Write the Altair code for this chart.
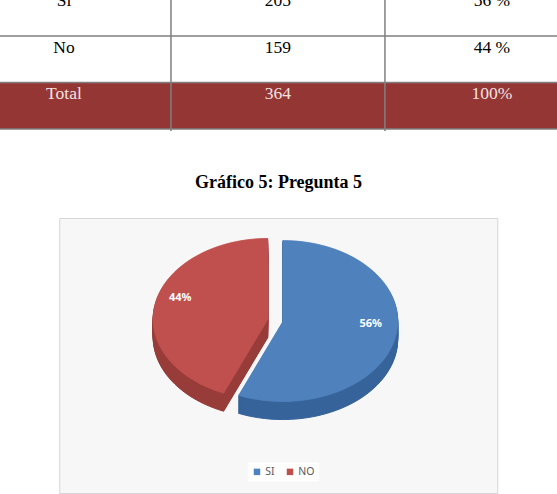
import altair as alt
import pandas as pd

# ---------------- data ----------------
row_labels = ["Sí", "No", "Total"]
row_counts = [205, 159, 364]
row_percents = ["56 %", "44 %", "100%"]

pie_categories = ["SI", "NO"]
pie_values = [205, 159]

title_text = "Gráfico 5: Pregunta 5"

# ---------------- style ----------------
BLUE, RED = "#4f81bd", "#c0504d"
BLUE_SIDE, RED_SIDE = "#36639a", "#973c39"
TOTAL_FILL = "#943634"
GRID = "#7f7f7f"
TILT = 0.70      # vertical squash of the 3-D pie
DEPTH = 0.157    # thickness of the pie
LEVELS = 18
N = 60
EXPLODE = 0.13

# ---------------- table ----------------
cells = []
for i, (lab, cnt, pct) in enumerate(zip(row_labels, row_counts, row_percents)):
    for j, txt in enumerate([lab, str(cnt), pct]):
        cells.append({"row": i, "col": j, "text": txt, "total": lab == "Total"})
cells_df = pd.DataFrame(cells)
hlines_df = pd.DataFrame({"b": list(range(1, len(row_labels) + 1))})
vlines_df = pd.DataFrame({"b": list(range(1, 3))})

xs = alt.Scale(domain=[0.201, 2.804])
ys = alt.Scale(domain=[0.226, 3.043], reverse=True)

cell_rects = alt.Chart(cells_df).transform_calculate(
    x1="datum.col + 1", y1="datum.row + 1"
).mark_rect(clip=True).encode(
    x=alt.X("col:Q", scale=xs, axis=None), x2="x1:Q",
    y=alt.Y("row:Q", scale=ys, axis=None), y2="y1:Q",
    fill=alt.condition("datum.total", alt.value(TOTAL_FILL), alt.value("white")),
)
cell_text = alt.Chart(cells_df).transform_calculate(
    xc="datum.col + 0.5"
).mark_text(clip=True, font="Liberation Serif", fontSize=17.5,
            baseline="alphabetic", align="center", dy=17).encode(
    x=alt.X("xc:Q", scale=xs, axis=None),
    y=alt.Y("row:Q", scale=ys, axis=None),
    text="text:N",
    color=alt.condition("datum.total", alt.value("#f4e2e1"), alt.value("black")),
)
hrules = alt.Chart(hlines_df).mark_rule(clip=True, color=GRID, strokeWidth=1.5).encode(
    y=alt.Y("b:Q", scale=ys, axis=None))
vrules = alt.Chart(vlines_df).mark_rule(clip=True, color=GRID, strokeWidth=1.5).encode(
    x=alt.X("b:Q", scale=xs, axis=None))

table = alt.layer(cell_rects, cell_text, hrules, vrules).properties(width=557, height=131)

# ---------------- title ----------------
title_chart = alt.Chart(pd.DataFrame({"t": [title_text]})).mark_text(
    font="Liberation Serif", fontSize=18, fontWeight="bold",
    baseline="alphabetic", align="center", color="black"
).encode(text="t:N", x=alt.value(278.5), y=alt.value(57)).properties(width=557, height=86)

# ---------------- 3-D pie ----------------
pie_df = pd.DataFrame({"category": pie_categories, "value": pie_values})
px_s = alt.Scale(domain=[-1.9435, 1.8652])
py_s = alt.Scale(domain=[-1.4957, 0.8957])

pie_base = alt.Chart(pie_df).transform_joinaggregate(
    total="sum(value)"
).transform_window(
    cum="sum(value)", sort=[alt.SortField("category", order="descending")]
).transform_calculate(
    a0="2*PI*(datum.cum - datum.value)/datum.total",
    a1="2*PI*datum.cum/datum.total",
).transform_calculate(
    mid="(datum.a0 + datum.a1)/2",
    ex=f"datum.category == 'NO' ? {EXPLODE} : 0",
).transform_calculate(
    ox="datum.ex*sin(datum.mid)",
    oy=f"datum.ex*cos(datum.mid)*{TILT}",
    pct="format(datum.value/datum.total, '.0%')",
)

poly = pie_base.transform_calculate(
    k=f"sequence(0, {N + 2})"
).transform_flatten(["k"]).transform_calculate(
    ang=f"datum.a0 + (datum.a1 - datum.a0)*(datum.k - 1)/{N}"
).transform_calculate(
    px="datum.ox + (datum.k == 0 ? 0 : sin(datum.ang))",
    py=f"datum.oy + (datum.k == 0 ? 0 : cos(datum.ang)*{TILT})",
)

side = poly.transform_calculate(
    lev=f"sequence(1, {LEVELS + 1})"
).transform_flatten(["lev"]).transform_calculate(
    py2=f"datum.py - datum.lev*{DEPTH}/{LEVELS}",
    grp="datum.category + '_' + datum.lev",
).mark_line(strokeWidth=1).encode(
    x=alt.X("px:Q", scale=px_s, axis=None),
    y=alt.Y("py2:Q", scale=py_s, axis=None),
    detail="grp:N",
    order="k:Q",
    fill=alt.Fill("category:N", scale=alt.Scale(domain=pie_categories, range=[BLUE_SIDE, RED_SIDE]), legend=None),
    stroke=alt.Stroke("category:N", scale=alt.Scale(domain=pie_categories, range=[BLUE_SIDE, RED_SIDE]), legend=None),
)

top = poly.mark_line(strokeWidth=0.8).encode(
    x=alt.X("px:Q", scale=px_s, axis=None),
    y=alt.Y("py:Q", scale=py_s, axis=None),
    detail="category:N",
    order="k:Q",
    fill=alt.Fill("category:N", scale=alt.Scale(domain=pie_categories, range=[BLUE, RED]),
                  legend=alt.Legend(orient="none", legendX=188.5, legendY=244.5,
                                    direction="horizontal", title=None,
                                    symbolType="square", symbolSize=42,
                                    symbolStrokeWidth=0, symbolFillColor=None,
                                    labelFont="Noto Sans", labelFontSize=10.5,
                                    labelColor="#595959", labelOffset=3,
                                    columnPadding=10, padding=4,
                                    fillColor="#ffffff")),
    stroke=alt.Stroke("category:N", scale=alt.Scale(domain=pie_categories, range=[BLUE, RED]), legend=None),
)

labels = pie_base.transform_calculate(
    lx="datum.ox + 0.78*sin(datum.mid)",
    ly=f"datum.oy + 0.78*cos(datum.mid)*{TILT}",
).mark_text(font="Noto Sans", fontSize=11, fontWeight="bold", color="white", dy=-9).encode(
    x=alt.X("lx:Q", scale=px_s, axis=None),
    y=alt.Y("ly:Q", scale=py_s, axis=None),
    text="pct:N",
)

pie = alt.layer(side, top, labels).resolve_scale(
    fill="independent", stroke="independent"
).properties(
    width=438, height=275,
    view=alt.ViewBackground(fill="#f7f7f7", stroke="#d6d6d6", strokeWidth=1),
)

chart = alt.vconcat(table, title_chart, pie, spacing=0, center=True).properties(
    padding=0
).configure_view(stroke=None)

chart.save("out.html", embed_options={"renderer": "svg", "actions": False})
